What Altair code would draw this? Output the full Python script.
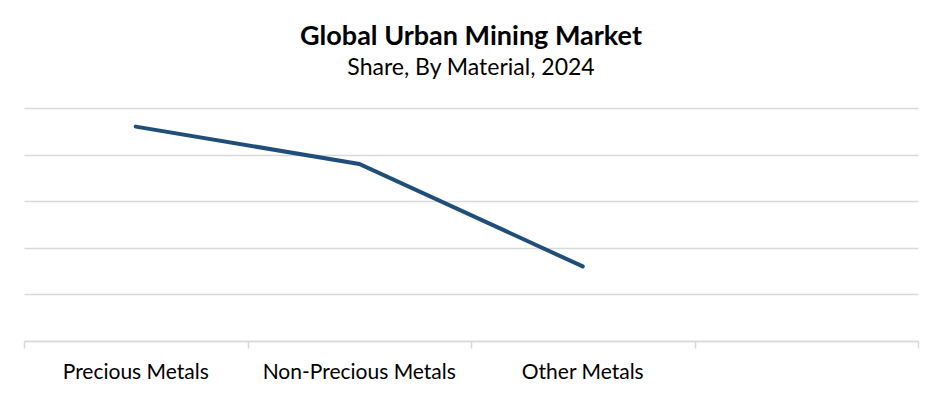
import altair as alt
import pandas as pd

categories = ["Precious Metals", "Non-Precious Metals", "Other Metals"]
shares = [4.6, 3.8, 1.6]
slots = categories + [""]
tick_marks = [0, 1, 2, 3, 4]
grid_values = [0, 1, 2, 3, 4, 5]

FONT = "Lato, Liberation Sans, sans-serif"
GRID = "#d9d9d9"

df = pd.DataFrame({"material": categories, "share": shares})
ticks_df = pd.DataFrame({"t": [tick_marks[0], tick_marks[-1]]})

line = alt.Chart(df).mark_line(color="#1f4e79", strokeWidth=4, strokeCap="round").encode(
    x=alt.X("material:N", sort=slots,
            scale=alt.Scale(type="band", domain=slots, paddingInner=0, paddingOuter=0),
            axis=alt.Axis(title=None, orient="bottom", ticks=False, domain=False, labelAngle=0,
                          labelFont=FONT, labelFontSize=21, labelColor="#000000",
                          labelPadding=20, labelLimit=400, grid=False)),
    y=alt.Y("share:Q", scale=alt.Scale(domain=[0, 5], nice=False),
            axis=alt.Axis(title=None, labels=False, ticks=False, domain=False,
                          values=grid_values, grid=True, gridColor=GRID, gridWidth=1.5)),
)

tick_layer = alt.Chart(ticks_df).mark_point(opacity=0).encode(
    x=alt.X("t:Q", scale=alt.Scale(domain=[0, 4], nice=False, zero=False),
            axis=alt.Axis(title=None, orient="bottom", labels=False, values=tick_marks, ticks=True,
                          tickSize=7, tickColor=GRID, tickWidth=1.5,
                          domain=True, domainColor=GRID, domainWidth=1.5, grid=False)),
)

chart = alt.layer(tick_layer, line).resolve_scale(x="independent").properties(
    width=894, height=233,
    background="white",
    padding={"left": 13, "top": 15, "right": 10, "bottom": 5},
    title=alt.TitleParams(
        text="Global Urban Mining Market",
        subtitle="Share, By Material, 2024",
        font=FONT, fontSize=27, fontWeight="bold", color="#000000",
        subtitleFont=FONT, subtitleFontSize=23, subtitleColor="#000000",
        subtitlePadding=6, anchor="middle", offset=27,
    ),
).configure_view(strokeWidth=0)

chart.save("out.html", embed_options={"renderer": "svg", "actions": False})
